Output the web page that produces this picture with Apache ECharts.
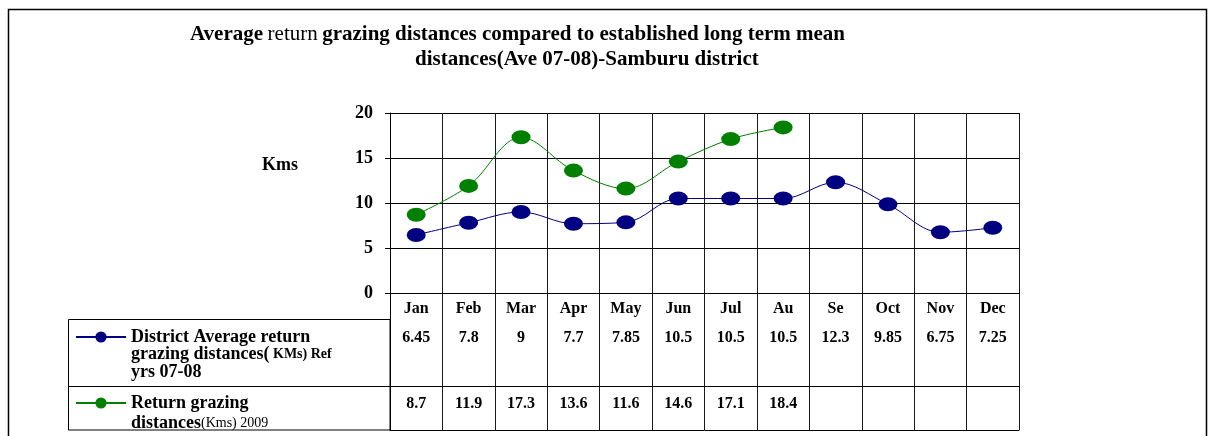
<!DOCTYPE html>
<html><head><meta charset="utf-8">
<script src="https://cdn.jsdelivr.net/npm/echarts@6/dist/echarts.min.js"></script>
<style>html,body{margin:0;padding:0;background:#fff}#c{width:1212px;height:436px}</style>
</head><body><div id="c"></div>
<script>
const months = ['Jan','Feb','Mar','Apr','May','Jun','Jul','Au','Se','Oct','Nov','Dec'];
const districtAvg = [6.45,7.8,9,7.7,7.85,10.5,10.5,10.5,12.3,9.85,6.75,7.25];
const return2009 = [8.7,11.9,17.3,13.6,11.6,14.6,17.1,18.4,null,null,null,null];
const yMin = 0, yMax = 20, yInterval = 5;
const nameDistrict = 'District Average return grazing distances( KMs) Ref yrs 07-08';
const nameReturn = 'Return grazing distances(Kms) 2009';

const FONT = '"Liberation Serif","Times New Roman",serif';
const chart = echarts.init(document.getElementById('c'), null, {renderer:'canvas'});
const gridLine = {color:'#1a1a1a', width:1};
const bold = (size) => ({fontFamily:FONT, fontSize:size, fontWeight:'bold', color:'#000'});
const fmt = v => (v == null ? '' : String(v));

const option = {
  animation:false,
  backgroundColor:'#fff',
  textStyle:{fontFamily:FONT},
  title:[
    {left:190, top:24, padding:0,
     text:'{b|Average} {r|return} {b|grazing distances compared to established long term mean}',
     textStyle:{rich:{b:bold(21), r:{fontFamily:FONT,fontSize:21,fontWeight:'normal',color:'#000'}}}},
    {left:415, top:49, padding:0, text:'distances(Ave 07-08)-Samburu district', textStyle:bold(21)}
  ],
  legend:[
    {data:[nameDistrict], left:75, top:293, orient:'vertical', padding:0, itemWidth:50, itemHeight:14,
     selectedMode:false,
     formatter:() => '\n\n{b|District Average return}\n{b|grazing distances(}{s| KMs) Ref}\n{b|yrs 07-08}',
     textStyle:{lineHeight:17.5, fontSize:18, rich:{b:Object.assign(bold(18),{lineHeight:17.5}), s:Object.assign(bold(14),{lineHeight:17.5})}}},
    {data:[nameReturn], left:75, top:373, orient:'vertical', padding:0, itemWidth:50, itemHeight:14,
     selectedMode:false,
     formatter:() => '\n{b|Return grazing}\n{b|distances}{s|(Kms) 2009}',
     textStyle:{lineHeight:20, fontSize:18, rich:{b:Object.assign(bold(18),{lineHeight:20}), s:{fontFamily:FONT,fontSize:14,fontWeight:'normal',color:'#000',lineHeight:20}}}}
  ],
  grid:[
    {left:390, top:113, width:629, height:180},
    {left:390, top:293, width:629, height:137}
  ],
  xAxis:[
    {gridIndex:0, type:'category', data:months, boundaryGap:true,
     axisLine:{show:true, lineStyle:{color:'#000', width:1}}, axisTick:{show:false},
     splitLine:{show:true, lineStyle:gridLine},
     axisLabel:Object.assign({margin:8, interval:0}, bold(16))},
    {gridIndex:1, type:'category', data:months, boundaryGap:true, position:'bottom',
     axisLine:{show:true, lineStyle:{color:'#000', width:1}}, axisTick:{show:false},
     splitLine:{show:true, lineStyle:gridLine}, axisLabel:{show:false}},
    {gridIndex:1, type:'category', data:months, boundaryGap:true, position:'bottom', offset:-104,
     axisLine:{show:false}, axisTick:{show:false}, splitLine:{show:false},
     axisLabel:Object.assign({margin:4, interval:0, formatter:(v,i)=>fmt(districtAvg[i])}, bold(16))},
    {gridIndex:1, type:'category', data:months, boundaryGap:true, position:'bottom', offset:-44,
     axisLine:{show:true, lineStyle:{color:'#000', width:1}}, axisTick:{show:false}, splitLine:{show:false},
     axisLabel:Object.assign({margin:10, interval:0, formatter:(v,i)=>fmt(return2009[i])}, bold(16))}
  ],
  yAxis:[
    {gridIndex:0, type:'value', min:yMin, max:yMax, interval:yInterval,
     axisLine:{show:true, lineStyle:{color:'#000', width:1}},
     axisTick:{show:true, length:5, lineStyle:{color:'#000'}},
     splitLine:{show:true, lineStyle:{color:'#000', width:1}},
     axisLabel:Object.assign({margin:17}, bold(18))},
    {gridIndex:1, type:'value', min:0, max:1,
     axisLine:{show:true, lineStyle:{color:'#000', width:1}}, axisTick:{show:false},
     splitLine:{show:false}, axisLabel:{show:false}}
  ],
  series:[
    {name:nameDistrict, type:'line', data:districtAvg, smooth:0.35, symbol:'circle', symbolSize:[19,14],
     xAxisIndex:0, yAxisIndex:0,
     lineStyle:{color:'#000080', width:1}, itemStyle:{color:'#000080'}},
    {name:nameReturn, type:'line', data:return2009, smooth:0.35, symbol:'circle', symbolSize:[19,14],
     xAxisIndex:0, yAxisIndex:0, connectNulls:false,
     lineStyle:{color:'#008000', width:1}, itemStyle:{color:'#008000'}}
  ],
  graphic:[
    {type:'rect', shape:{x:8.5, y:9.5, width:1198, height:440}, style:{fill:'none', stroke:'#000', lineWidth:1.5}, silent:true},
    {type:'rect', shape:{x:68.5, y:319.5, width:321.5, height:110.5}, style:{fill:'none', stroke:'#000', lineWidth:1}, silent:true},
    {type:'line', shape:{x1:68.5, y1:386.5, x2:390, y2:386.5}, style:{stroke:'#000', lineWidth:1}, silent:true},
    {type:'text', left:262, top:156, style:{text:'Kms', font:'bold 18px ' + FONT, fill:'#000'}, silent:true}
  ]
};
chart.setOption(option);
</script></body></html>
